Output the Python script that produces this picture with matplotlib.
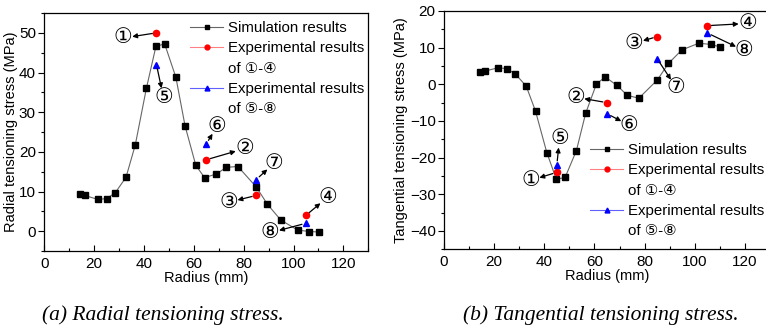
import numpy as np
import matplotlib
matplotlib.use('Agg')
import matplotlib.pyplot as plt
from matplotlib.lines import Line2D
from matplotlib.ticker import MultipleLocator

plt.rcParams['font.family'] = ['Liberation Sans', 'DejaVu Sans']

# simulation radii (mm)
radius = [14.2, 16.3, 21.5, 25.0, 28.5, 32.8, 36.5, 41.0, 44.8, 48.3, 52.8, 56.5,
          60.8, 64.3, 69.0, 73.1, 77.7, 85.1, 89.5, 94.9, 101.6, 106.3, 110.1]
radial_sim = [9.3, 9.0, 8.0, 8.2, 9.7, 13.6, 21.7, 36.1, 46.6, 47.2, 38.8, 26.5,
              16.6, 13.5, 14.4, 16.1, 16.3, 11.1, 6.8, 2.8, 0.3, -0.1, -0.2]
tang_sim = [3.3, 3.6, 4.5, 4.3, 2.8, -0.5, -7.3, -18.6, -25.9, -25.4, -18.1, -7.9,
            0.1, 2.0, -0.3, -3.0, -3.8, 1.2, 5.7, 9.4, 11.2, 10.9, 10.2]

# experimental points
exp_r = [45, 65, 85, 105]
radial_exp14 = [50, 18, 9, 4]
radial_exp58 = [42, 22, 13, 2]
tang_exp14 = [-24, -5, 13, 16]
tang_exp58 = [-22, -8, 7, 14]

labels14 = ['\u2460', '\u2461', '\u2462', '\u2463']
labels58 = ['\u2464', '\u2465', '\u2466', '\u2467']

# label positions (data coords)
radial_lbl14 = [(31.7, 48.7), (80.3, 20.8), (74.0, 7.3), (113.6, 8.5)]
radial_lbl58 = [(47.8, 33.8), (69.4, 26.5), (92.2, 17.1), (90.7, -0.4)]
tang_lbl14 = [(34.6, -26.2), (52.4, -3.5), (75.9, 11.2), (121.1, 16.6)]
tang_lbl58 = [(46.1, -14.8), (73.9, -11.2), (92.5, -0.8), (119.7, 9.2)]

legend_names = ['Simulation results', 'Experimental results', 'of \u2460-\u2463',
                'Experimental results', 'of \u2464-\u2467']

fig = plt.figure(figsize=(7.66, 3.31), dpi=100)
ax1 = fig.add_axes([0.0578, 0.2417, 0.4230, 0.7190])
ax2 = fig.add_axes([0.5796, 0.2468, 0.4256, 0.7200])


def draw(ax, sim, e14, e58, l14, l58, ylim, ylabel, leg_anchor):
    ax.plot(radius, sim, '-', color='#666666', lw=0.8, marker='s', ms=4.2,
            mfc='black', mec='black', zorder=3)
    ax.plot(exp_r, e14, 'o', color='#ff0000', ms=4.5, ls='none', zorder=4)
    ax.plot(exp_r, e58, '^', color='#0000ff', ms=4.5, ls='none', zorder=4)
    arr = dict(arrowstyle='<|-', color='black', lw=0.9, mutation_scale=7,
               patchA=None, shrinkA=6.5, shrinkB=3)
    for (x, y, t, p) in zip(exp_r, e14, labels14, l14):
        ax.annotate(t, xy=(x, y), xytext=p, ha='center', va='center',
                    fontsize=15, arrowprops=arr, zorder=5)
    for (x, y, t, p) in zip(exp_r, e58, labels58, l58):
        ax.annotate(t, xy=(x, y), xytext=p, ha='center', va='center',
                    fontsize=15, arrowprops=arr, zorder=5)
    ax.set_xlim(0, 130)
    ax.set_ylim(*ylim)
    ax.xaxis.set_major_locator(MultipleLocator(20))
    ax.xaxis.set_minor_locator(MultipleLocator(10))
    ax.yaxis.set_major_locator(MultipleLocator(10))
    ax.yaxis.set_minor_locator(MultipleLocator(5))
    ax.tick_params(axis='x', which='both', direction='in', labelsize=11, pad=4)
    ax.tick_params(axis='y', which='both', direction='out', labelsize=11, pad=2)
    ax.tick_params(which='major', length=4, width=0.8)
    ax.tick_params(which='minor', length=2.5, width=0.8)
    ax.set_xlabel('Radius (mm)', fontsize=10.5, labelpad=0)
    ax.set_ylabel(ylabel, fontsize=10.5, labelpad=1)
    for s in ax.spines.values():
        s.set_linewidth(0.9)
    blank = Line2D([], [], color='none', lw=0)
    handles = [
        Line2D([], [], color='#666666', lw=0.8, marker='s', ms=3, mfc='black', mec='black'),
        Line2D([], [], color='#ff8080', lw=0.8, marker='o', ms=3.5, mfc='#ff0000', mec='#ff0000'),
        blank,
        Line2D([], [], color='#6060ff', lw=0.8, marker='^', ms=3.5, mfc='#0000ff', mec='#0000ff'),
        blank,
    ]
    ax.legend(handles, legend_names, loc='upper left', bbox_to_anchor=leg_anchor,
              bbox_transform=fig.transFigure, frameon=False, fontsize=10.8,
              handlelength=2.2, handletextpad=0.3, labelspacing=0.42,
              borderaxespad=0, borderpad=0)


draw(ax1, radial_sim, radial_exp14, radial_exp58, radial_lbl14, radial_lbl58,
     (-5, 55), 'Radial tensioning stress (MPa)', (190 / 766, 1 - 21 / 331))
draw(ax2, tang_sim, tang_exp14, tang_exp58, tang_lbl14, tang_lbl58,
     (-45, 20), 'Tangential tensioning stress (MPa)', (590 / 766, 1 - 143 / 331))

fig.text(163 / 766, 1 - 315 / 331, '(a) Radial tensioning stress.', ha='center', va='center',
         family='Liberation Serif', style='italic', fontsize=15.5)
fig.text(601 / 766, 1 - 315 / 331, '(b) Tangential tensioning stress.', ha='center', va='center',
         family='Liberation Serif', style='italic', fontsize=15.5)

fig.savefig('out.png', dpi=100)
